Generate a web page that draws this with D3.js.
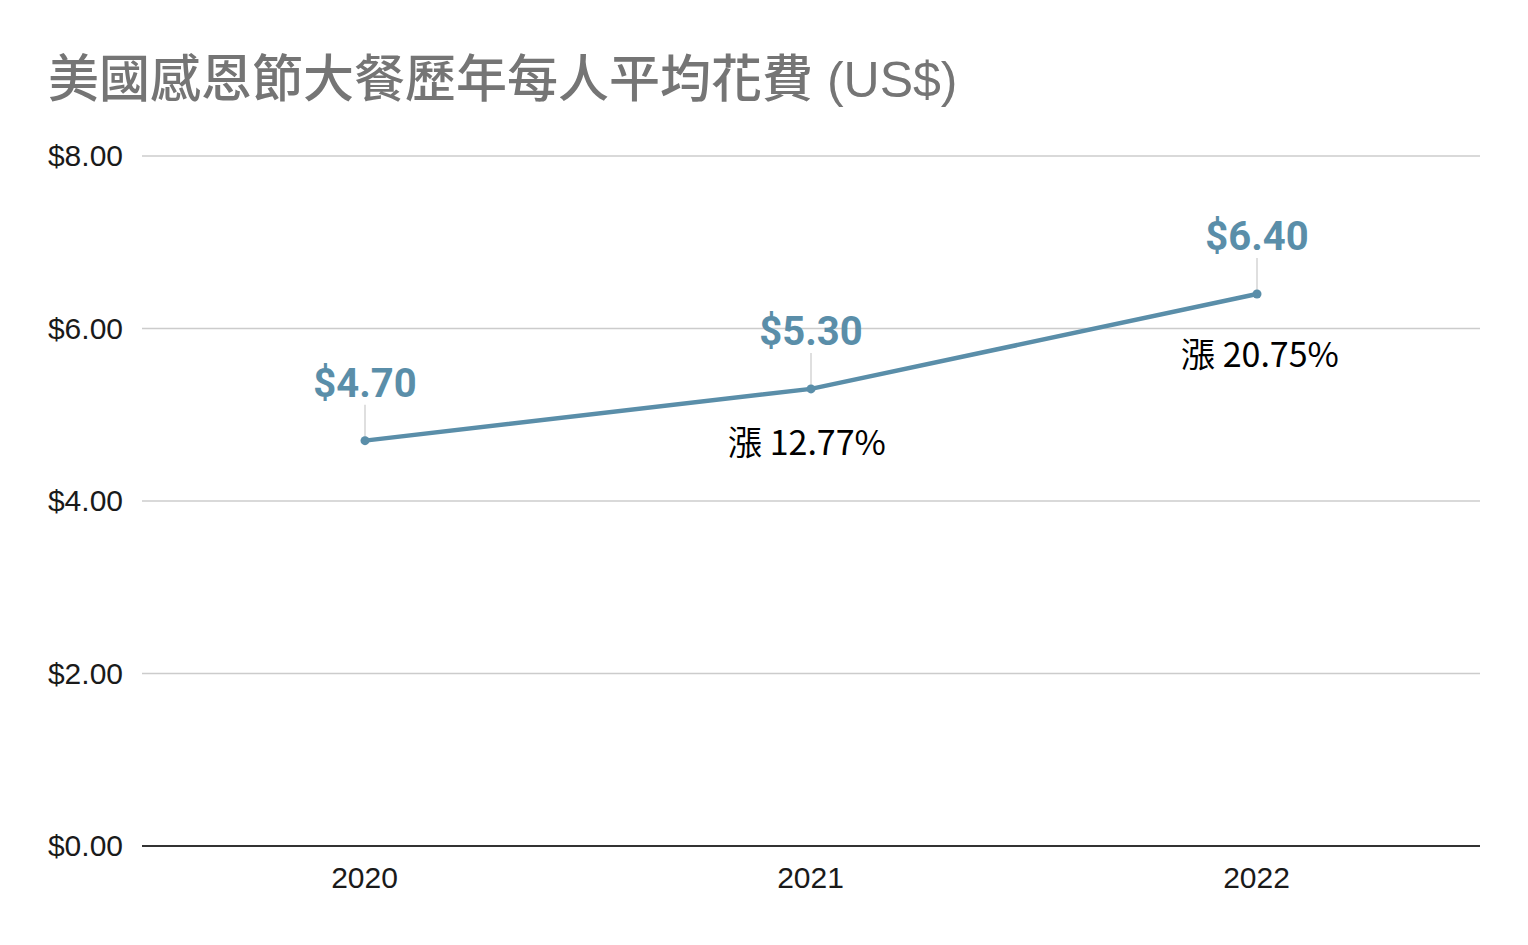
<!DOCTYPE html>
<html>
<head>
<meta charset="utf-8">
<script src="https://cdn.jsdelivr.net/npm/d3@7"></script>
<style>
  html, body { margin: 0; padding: 0; background: #fff; }
  svg { display: block; }
</style>
</head>
<body>
<svg id="chart" width="1528" height="945"></svg>
<script>
const years = ["2020", "2021", "2022"];
const values = [4.70, 5.30, 6.40];
const valueLabels = ["$4.70", "$5.30", "$6.40"];
const changeLabels = [null, "漲 12.77%", "漲 20.75%"];
const yTicks = [0, 2, 4, 6, 8];
const titleCJK = "美國感恩節大餐歷年每人平均花費";
const titleUnit = " (US$)";

(function () {
const svg = d3.select("#chart");
const plotLeft = 142, plotRight = 1480, plotTop = 156, plotBottom = 846;
const lineColor = "#5a8ea9";

const x = d3.scalePoint().domain(years).range([plotLeft, plotRight]).padding(0.5);
const y = d3.scaleLinear().domain([0, 8]).range([plotBottom, plotTop]);

// title
const title = svg.append("text")
  .attr("x", 48).attr("y", 97)
  .attr("fill", "#757575");
title.append("tspan")
  .attr("font-family", "'Noto Sans CJK TC', sans-serif")
  .attr("font-size", 51)
  .attr("font-weight", 500)
  .text(titleCJK);
title.append("tspan")
  .attr("font-family", "'Liberation Sans', Arial, sans-serif")
  .attr("font-size", 50)
  .text(titleUnit);

// gridlines
svg.append("g").selectAll("line")
  .data(yTicks.filter(d => d !== 0))
  .join("line")
  .attr("x1", plotLeft).attr("x2", plotRight)
  .attr("y1", d => y(d)).attr("y2", d => y(d))
  .attr("stroke", "#cccccc").attr("stroke-width", 1.5);

// y axis labels
const yAxis = d3.axisLeft(y).tickValues(yTicks).tickSize(0).tickPadding(19)
  .tickFormat(d => "$" + d3.format(".2f")(d));
const gy = svg.append("g").attr("transform", `translate(${plotLeft},0)`).call(yAxis);
gy.select(".domain").remove();
gy.selectAll("text")
  .attr("font-family", "'Liberation Sans', Arial, sans-serif")
  .attr("font-size", 30)
  .attr("fill", "#1a1a1a");

// baseline
svg.append("line")
  .attr("x1", plotLeft).attr("x2", plotRight)
  .attr("y1", y(0)).attr("y2", y(0))
  .attr("stroke", "#333").attr("stroke-width", 2);

// x axis labels
const xAxis = d3.axisBottom(x).tickSize(0).tickPadding(21);
const gx = svg.append("g").attr("transform", `translate(0,${plotBottom})`).call(xAxis);
gx.select(".domain").remove();
gx.selectAll("text")
  .attr("font-family", "'Liberation Sans', Arial, sans-serif")
  .attr("font-size", 30)
  .attr("fill", "#1a1a1a")
  .attr("dx", "-1");

const data = years.map((yr, i) => ({ yr, v: values[i], label: valueLabels[i], change: changeLabels[i] }));

// leader lines
svg.append("g").selectAll("line")
  .data(data)
  .join("line")
  .attr("x1", d => x(d.yr)).attr("x2", d => x(d.yr))
  .attr("y1", d => y(d.v) - 36).attr("y2", d => y(d.v))
  .attr("stroke", "#d5d5d5").attr("stroke-width", 1.5);

// line
svg.append("path")
  .datum(data)
  .attr("fill", "none")
  .attr("stroke", lineColor)
  .attr("stroke-width", 4.5)
  .attr("d", d3.line().x(d => x(d.yr)).y(d => y(d.v)));

// points
svg.append("g").selectAll("circle")
  .data(data)
  .join("circle")
  .attr("cx", d => x(d.yr)).attr("cy", d => y(d.v))
  .attr("r", 4.5).attr("fill", lineColor);

// value labels
svg.append("g").selectAll("text")
  .data(data)
  .join("text")
  .attr("x", d => x(d.yr)).attr("y", d => y(d.v) - 44)
  .attr("text-anchor", "middle")
  .attr("font-family", "Roboto, sans-serif")
  .attr("font-weight", "bold")
  .attr("font-size", 40)
  .attr("fill", lineColor)
  .text(d => d.label);

// change annotations (placed beneath points)
const annDx = { "2021": -4, "2022": 3 };
const annDy = { "2021": 66, "2022": 73 };
svg.append("g").selectAll("text")
  .data(data.filter(d => d.change))
  .join("text")
  .attr("x", d => x(d.yr) + annDx[d.yr]).attr("y", d => y(d.v) + annDy[d.yr])
  .attr("text-anchor", "middle")
  .attr("font-family", "'Noto Sans CJK TC', sans-serif")
  .attr("font-size", 34)
  .attr("fill", "#000")
  .text(d => d.change);
})();
</script>
</body>
</html>
